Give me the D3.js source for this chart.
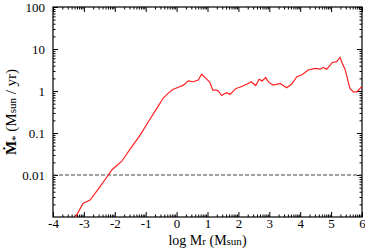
<!DOCTYPE html>
<html>
<head>
<meta charset="utf-8">
<script src="https://cdn.jsdelivr.net/npm/d3@7"></script>
<style>
  body { margin: 0; background: #fff; }
  text { font-family: "Liberation Serif", "DejaVu Serif", serif; }
</style>
</head>
<body>
<div id="chart"></div>
<script>
// log Mr values (x) and accretion rate Mdot (Msun/yr)
var logMr = [-3.35, -3.02, -2.8, -2.5, -2.21, -2.1, -1.78, -1.5, -1.18, -0.88,
  -0.56, -0.43, -0.27, -0.11, 0.06, 0.22, 0.38, 0.54, 0.70, 0.81,
  0.97, 1.08, 1.17, 1.28, 1.35, 1.46, 1.53, 1.62, 1.73, 1.92,
  2.05, 2.32, 2.41, 2.56, 2.67, 2.77, 2.88, 2.99, 3.13, 3.35,
  3.56, 3.72, 3.89, 4.05, 4.26, 4.48, 4.64, 4.75, 4.86, 5.04,
  5.18, 5.29, 5.36, 5.45, 5.54, 5.61, 5.72, 5.83, 5.97, 6.0];
var mdot = [0.0008, 0.00214, 0.00254, 0.005, 0.01, 0.0132, 0.021, 0.042, 0.089, 0.204,
  0.48, 0.68, 0.89, 1.10, 1.23, 1.38, 1.74, 1.66, 1.82, 2.51,
  1.95, 1.58, 1.05, 1.05, 1.0, 0.78, 0.85, 0.91, 0.83, 1.15,
  1.23, 1.51, 1.66, 1.35, 1.91, 1.74, 2.09, 1.58, 1.38, 1.51,
  1.20, 1.45, 2.19, 2.40, 3.16, 3.47, 3.31, 3.63, 3.31, 4.79,
  5.01, 6.31, 4.57, 3.31, 1.82, 1.15, 0.95, 0.95, 1.23, 1.26];
var xTicks = [-4, -3, -2, -1, 0, 1, 2, 3, 4, 5, 6];
var yTicks = [0.01, 0.1, 1, 10, 100];
var yTickLabels = ["0.01", "0.1", "1", "10", "100"];
var threshold = 0.01;

var margin = {top: 7, right: 3, bottom: 34, left: 53},
  width = 365 - margin.left - margin.right,
  height = 251 - margin.top - margin.bottom;

var svg = d3.select("#chart")
  .append("svg")
    .attr("width", 365)
    .attr("height", 251)
  .append("g")
    .attr("transform", "translate(" + margin.left + "," + margin.top + ")");

var x = d3.scaleLinear().domain([-4, 6]).range([0, width]);
var y = d3.scaleLog().domain([0.001, 100]).range([height, 0]);

// minor ticks: log-style on both axes
var xMinor = [];
for (var i = -4; i < 6; i++) {
  for (var k = 2; k <= 9; k++) xMinor.push(i + Math.log10(k));
}
var yMinor = [];
for (var e = -3; e < 2; e++) {
  for (var k = 2; k <= 9; k++) yMinor.push(k * Math.pow(10, e));
}

function axisSet(axisFn, scale, major, minor, tr, labels, fmt, pad) {
  var g = svg.append("g").attr("transform", tr);
  g.call(axisFn(scale).tickValues(major).tickSize(-5).tickPadding(labels ? pad : 0)
    .tickFormat(labels ? fmt : ""));
  g.select(".domain").remove();
  g.append("g").call(axisFn(scale).tickValues(minor).tickSize(-2.5).tickFormat(""))
    .select(".domain").remove();
  g.selectAll("line").attr("stroke", "#000").attr("stroke-width", 1);
  g.selectAll("text").style("font-size", "13px").attr("fill", "#000")
    .style("font-family", "'Liberation Serif', serif");
  return g;
}

axisSet(d3.axisBottom, x, xTicks, xMinor, "translate(0," + height + ")", true, function(d) { return d; }, 2);
axisSet(d3.axisTop, x, xTicks, xMinor, "translate(0,0)", false);
axisSet(d3.axisLeft, y, yTicks, yMinor, "translate(0,0)", true, function(d) { return yTickLabels[yTicks.indexOf(d)]; }, 8);
axisSet(d3.axisRight, y, yTicks, yMinor, "translate(" + width + ",0)", false);

// frame
svg.append("rect")
  .attr("width", width).attr("height", height)
  .attr("fill", "none").attr("stroke", "#000").attr("stroke-width", 1.2);

svg.append("clipPath").attr("id", "clip")
  .append("rect").attr("width", width).attr("height", height);

// dashed 0.01 line
svg.append("line")
  .attr("x1", 0).attr("x2", width)
  .attr("y1", y(threshold)).attr("y2", y(threshold))
  .attr("stroke", "#444").attr("stroke-width", 1)
  .attr("stroke-dasharray", "4,2");

var pts = logMr.map(function(v, i) { return [v, mdot[i]]; });
svg.append("path")
  .datum(pts)
  .attr("clip-path", "url(#clip)")
  .attr("fill", "none")
  .attr("stroke", "#ff2020")
  .attr("stroke-width", 1.2)
  .attr("d", d3.line().x(function(d) { return x(d[0]); }).y(function(d) { return y(d[1]); }));

// axis titles
svg.append("text")
  .attr("x", width / 2).attr("y", height + 28)
  .attr("text-anchor", "middle")
  .style("font-size", "14px")
  .html('log M<tspan font-size="11px">r</tspan> (M<tspan font-size="11px">sun</tspan>)');

svg.append("text")
  .attr("transform", "translate(-37," + (height / 2) + ") rotate(-90)")
  .attr("text-anchor", "middle")
  .style("font-size", "15px")
  .html('<tspan font-weight="bold">\u1E40</tspan><tspan font-size="11px" dy="3">*</tspan><tspan dy="-3"> (M</tspan><tspan font-size="11px">sun</tspan> / yr)');
</script>
</body>
</html>
